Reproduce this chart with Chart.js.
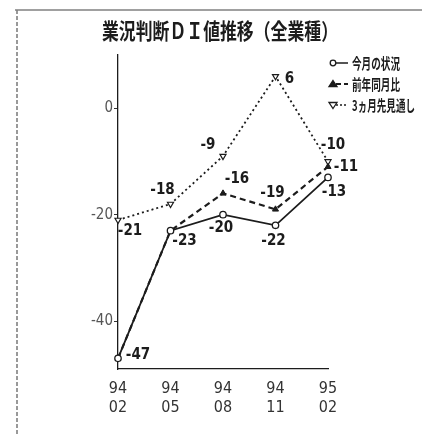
<!DOCTYPE html>
<html>
<head>
<meta charset="utf-8">
<script src="https://cdn.jsdelivr.net/npm/chart.js@4"></script>
<style>
body { margin: 0; background: #fff; }
#wrap { width: 422px; height: 434px; position: relative; }
</style>
</head>
<body>
<div id="wrap"><canvas id="diChart"></canvas></div>
<script>
// データ
const categories = [['94', '02'], ['94', '05'], ['94', '08'], ['94', '11'], ['95', '02']];
const currentValues = [-47, -23, -20, -22, -13];   // 今月の状況
const yoyValues = [-47, -23, -16, -19, -11];       // 前年同月比
const outlookValues = [-21, -18, -9, 6, -10];      // 3ヵ月先見通し
const yTicks = [0, -20, -40];

const seriesNames = ['今月の状況', '前年同月比', '3ヵ月先見通し'];
const titleText = '業況判断ＤＩ値推移（全業種）';

// 数値ラベルの位置 (点からのずれ)
const labelOffsets = [
    [[20, -3], [14, 10], [-2, 13], [-2, 16], [6, 15]],
    [null, null, [14, -14], [-3, -16], [18, 0]],
    [[12, 11], [-8, -14], [-15, -11], [14, 3], [5, -16]]
];

const ink = '#1c1c1c';
const handFont = 'bold 15px "DejaVu Sans Condensed", "DejaVu Sans", sans-serif';
const axisFont = { family: '"DejaVu Sans Condensed", "DejaVu Sans", sans-serif', size: 16 };

// 文字を横に縮めて描く
function drawNarrow(ctx, text, x, y, font, width, align) {
    ctx.save();
    ctx.font = font;
    const w = ctx.measureText(text).width;
    const k = width / w;
    let left = x;
    if (align === 'center') left = x - width / 2;
    ctx.translate(left, y);
    ctx.scale(k, 1);
    ctx.textAlign = 'left';
    ctx.textBaseline = 'middle';
    ctx.fillText(text, 0, 0);
    ctx.restore();
}

const framePlugin = {
    id: 'frame',
    beforeDraw(chart) {
        const ctx = chart.ctx;
        ctx.save();
        ctx.fillStyle = '#fff';
        ctx.fillRect(0, 0, chart.width, chart.height);
        ctx.strokeStyle = '#808080';
        ctx.lineWidth = 1.6;
        ctx.beginPath();
        ctx.moveTo(15, 10);
        ctx.lineTo(422, 10);
        ctx.stroke();
        ctx.setLineDash([4, 2]);
        ctx.beginPath();
        ctx.moveTo(17, 10);
        ctx.lineTo(17, 434);
        ctx.stroke();
        ctx.restore();
    }
};

const textPlugin = {
    id: 'texts',
    afterDatasetsDraw(chart) {
        const ctx = chart.ctx;
        ctx.save();
        ctx.fillStyle = ink;

        // タイトル
        drawNarrow(ctx, titleText, 220, 31, 'bold 22px "Noto Sans CJK JP"', 236, 'center');

        // 凡例
        const rows = [63, 84, 105];
        rows.forEach((y, i) => {
            ctx.save();
            ctx.strokeStyle = ink;
            ctx.lineWidth = i === 1 ? 2 : 1.5;
            ctx.setLineDash(i === 0 ? [] : i === 1 ? [5, 3] : [2, 2]);
            ctx.beginPath();
            ctx.moveTo(336, y);
            ctx.lineTo(348, y);
            ctx.stroke();
            ctx.setLineDash([]);
            ctx.lineWidth = 1.3;
            ctx.fillStyle = i === 1 ? ink : '#fff';
            ctx.beginPath();
            if (i === 0) {
                ctx.arc(333, y, 2.8, 0, Math.PI * 2);
            } else if (i === 1) {
                ctx.moveTo(333, y - 3.5);
                ctx.lineTo(337, y + 2.5);
                ctx.lineTo(329, y + 2.5);
                ctx.closePath();
            } else {
                ctx.moveTo(333, y + 3.5);
                ctx.lineTo(337, y - 2.5);
                ctx.lineTo(329, y - 2.5);
                ctx.closePath();
            }
            ctx.fill();
            ctx.stroke();
            ctx.restore();
            const widths = [48, 48, 63];
            drawNarrow(ctx, seriesNames[i], 352, y, 'bold 15px "Noto Sans CJK JP"', widths[i], 'left');
        });

        // 数値ラベル
        ctx.font = handFont;
        ctx.textAlign = 'center';
        ctx.textBaseline = 'middle';
        chart.data.datasets.forEach((ds, di) => {
            const meta = chart.getDatasetMeta(di);
            meta.data.forEach((pt, j) => {
                const off = labelOffsets[di][j];
                if (!off) return;
                ctx.fillText(String(ds.data[j]), pt.x + off[0], pt.y + off[1]);
            });
        });
        ctx.restore();
    }
};

const ctx = document.getElementById('diChart').getContext('2d');
new Chart(ctx, {
    type: 'line',
    data: {
        labels: categories,
        datasets: [{
            label: seriesNames[0],
            data: currentValues,
            borderColor: ink,
            borderWidth: 1.8,
            pointStyle: 'circle',
            pointRadius: 3.2,
            pointBackgroundColor: '#fff',
            pointBorderColor: ink,
            pointBorderWidth: 1.3
        }, {
            label: seriesNames[1],
            data: yoyValues,
            borderColor: ink,
            borderWidth: 2.2,
            borderDash: [6, 4],
            pointStyle: 'triangle',
            pointRadius: 3.5,
            pointBackgroundColor: ink,
            pointBorderColor: ink,
            pointBorderWidth: 1
        }, {
            label: seriesNames[2],
            data: outlookValues,
            borderColor: ink,
            borderWidth: 1.8,
            borderDash: [2, 3],
            pointStyle: 'triangle',
            rotation: 180,
            pointRadius: 3.5,
            pointBackgroundColor: '#fff',
            pointBorderColor: ink,
            pointBorderWidth: 1.2
        }]
    },
    options: {
        responsive: true,
        maintainAspectRatio: false,
        animation: false,
        layout: { padding: { left: 78, right: 94, top: 55, bottom: 20 } },
        plugins: {
            legend: { display: false },
            title: { display: false },
            tooltip: { enabled: false }
        },
        scales: {
            x: {
                offset: false,
                grid: { display: false },
                border: { display: true, color: ink, width: 1.3 },
                ticks: { color: '#333', font: axisFont, padding: 2, maxRotation: 0, autoSkip: false },
                afterFit: (s) => { s.height = 45; }
            },
            y: {
                min: -49,
                max: 10,
                afterBuildTicks: (s) => { s.ticks = yTicks.map(v => ({ value: v })); },
                grid: { drawOnChartArea: false, tickLength: 4, color: '#333' },
                border: { display: true, color: ink, width: 1.3 },
                ticks: { color: '#555', font: { family: axisFont.family, size: 15 }, padding: 1 },
                afterFit: (s) => { s.width = 40; }
            }
        }
    },
    plugins: [framePlugin, textPlugin]
});
</script>
</body>
</html>
